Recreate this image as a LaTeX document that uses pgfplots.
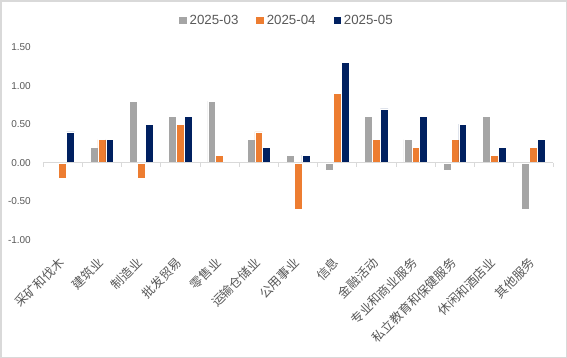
\documentclass[border=0pt]{standalone}
\usepackage{pgfplots}
\pgfplotsset{compat=1.18}
\usepackage{fontspec}
\setmainfont{Liberation Sans}
\newfontfamily\cjk{Noto Sans CJK SC}
\definecolor{cgray}{HTML}{A5A5A5}
\definecolor{corange}{HTML}{ED7D31}
\definecolor{cnavy}{HTML}{002060}
\definecolor{ctext}{HTML}{595959}
\definecolor{cline}{HTML}{D9D9D9}
\begin{document}
\begin{tikzpicture}
\fill[white] (0,0) rectangle (567bp,-358bp);
\draw[cline, line width=1.5bp] (0.75bp,-0.75bp) rectangle (566.25bp,-357.25bp);
\begin{axis}[
  at={(43bp,-240bp)}, anchor=south west,
  scale only axis, width=510bp, height=193bp,
  xmin=-0.5, xmax=12.5, ymin=-1, ymax=1.5,
  axis line style={draw=none},
  xtick={0,...,12},
  xticklabels={采矿和伐木,建筑业,制造业,批发贸易,零售业,运输仓储业,公用事业,信息,金融活动,专业和商业服务,私立教育和保健服务,休闲和酒店业,其他服务},
  ytick={-1,-0.5,0,0.5,1,1.5},
  major tick length=0pt,
  yticklabel={\pgfmathprintnumber[fixed,fixed zerofill,precision=2,assume math mode=true]{\tick}},
  yticklabel style={font=\fontsize{10bp}{12bp}\selectfont, text=ctext, inner sep=0pt, anchor=east, xshift=-12bp},
  xticklabel style={font=\cjk\fontsize{12.5bp}{14bp}\selectfont, text=ctext, inner sep=0pt, xshift=-5bp, yshift=-16bp, rotate=45, anchor=north east},
  legend columns=3,
  legend style={at={(0.4765,1.138)}, anchor=center, draw=none, fill=none, inner sep=0pt,
    font=\fontsize{13.3bp}{15bp}\selectfont, text=ctext,
    nodes={inner sep=0pt},
    /tikz/every odd column/.append style={column sep=2.7bp},
    /tikz/every even column/.append style={column sep=18bp}},
  legend image code/.code={\fill[#1,draw=none] (0bp,-3.8bp) rectangle (7.6bp,3.8bp);},
  clip=false,
]
\addplot[ybar, bar width=0.2, bar shift=-0.2, fill=cgray, draw=white, line width=0.4bp]
  coordinates {(0,0) (1,0.2) (2,0.8) (3,0.6) (4,0.8) (5,0.3) (6,0.1) (7,-0.1) (8,0.6) (9,0.3) (10,-0.1) (11,0.6) (12,-0.6)};
\addlegendentry{2025-03}
\addplot[ybar, bar width=0.2, bar shift=0, fill=corange, draw=white, line width=0.4bp]
  coordinates {(0,-0.2) (1,0.3) (2,-0.2) (3,0.5) (4,0.1) (5,0.4) (6,-0.6) (7,0.9) (8,0.3) (9,0.2) (10,0.3) (11,0.1) (12,0.2)};
\addlegendentry{2025-04}
\addplot[ybar, bar width=0.2, bar shift=0.2, fill=cnavy, draw=white, line width=0.4bp]
  coordinates {(0,0.4) (1,0.3) (2,0.5) (3,0.6) (4,0) (5,0.2) (6,0.1) (7,1.3) (8,0.7) (9,0.6) (10,0.5) (11,0.2) (12,0.3)};
\addlegendentry{2025-05}
\draw[cline, line width=0.75bp] (axis cs:-0.5,0) -- (axis cs:12.5,0);
\pgfplotsinvokeforeach{-0.5,0.5,1.5,2.5,3.5,4.5,5.5,6.5,7.5,8.5,9.5,10.5,11.5,12.5}{
  \draw[cline, line width=0.75bp] (axis cs:#1,0) -- ([yshift=-4bp]axis cs:#1,0);
}
\end{axis}
\pgfresetboundingbox
\path[use as bounding box] (0,0) rectangle (567bp,-358bp);
\end{tikzpicture}
\end{document}
